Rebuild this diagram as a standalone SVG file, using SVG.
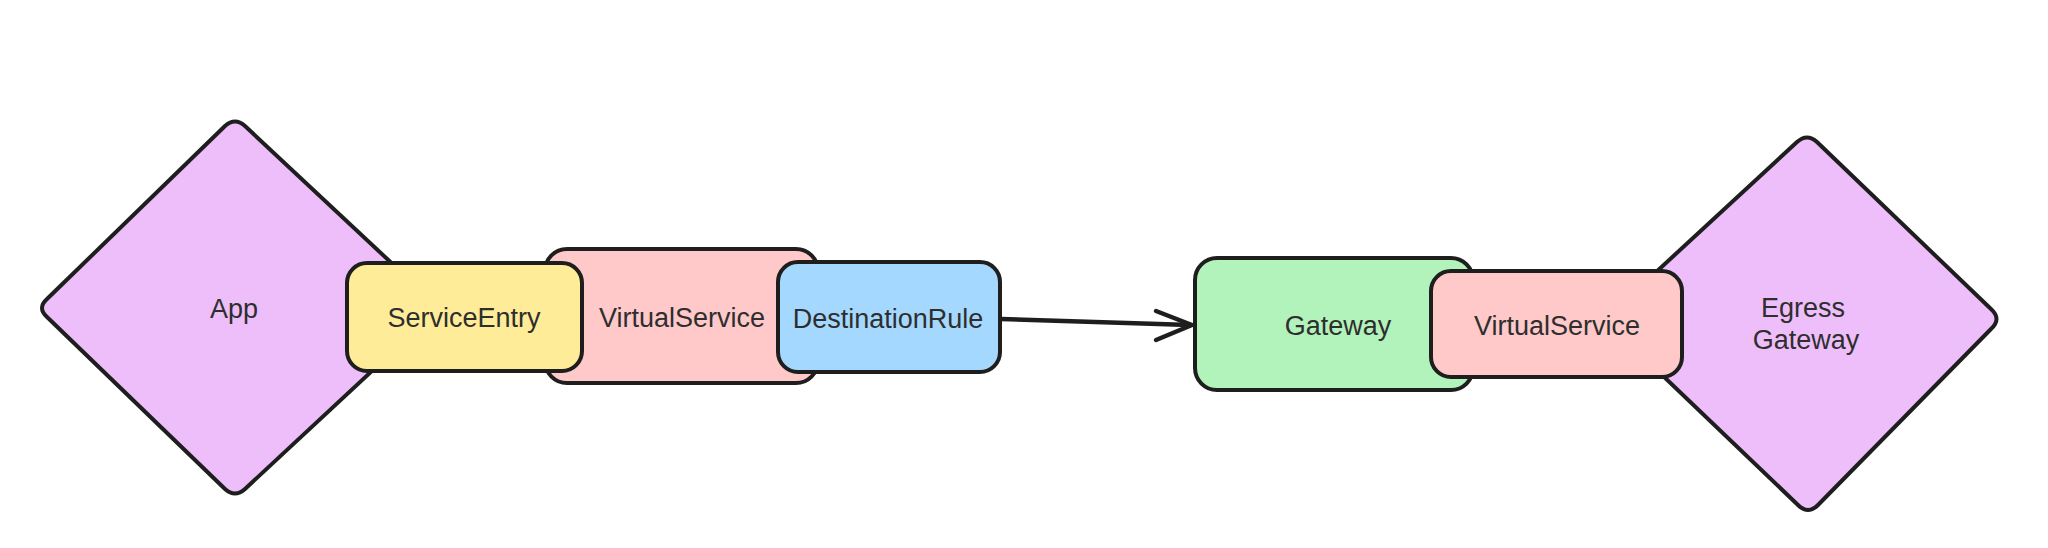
<svg xmlns="http://www.w3.org/2000/svg" width="2048" height="548" viewBox="0 0 2048 548">
<style>
.shape{stroke:#1e1e1e;stroke-width:4;stroke-linejoin:round;stroke-linecap:round}
.purple{fill:#eebefa}
.yellow{fill:#ffec99}
.pink{fill:#ffc9c9}
.blue{fill:#a5d8ff}
.green{fill:#b2f2bb}
.lbl{font-family:"Liberation Sans",Arial,sans-serif;font-size:27px;fill:#2e2e2e;text-anchor:middle}
.conn{fill:none;stroke:#1e1e1e;stroke-width:4.5;stroke-linecap:round;stroke-linejoin:round}
</style>
<rect width="2048" height="548" fill="#ffffff"/>
<g id="app">
<path class="shape purple" d="M245,126 L430,299 Q440,308 430,317 L245,489 Q235,498 225,489 L47,317 Q37,308 47,299 L225,126 Q235,117 245,126 Z"/>
<text class="lbl" x="234" y="318">App</text>
</g>
<g id="virtualservice1">
<rect class="shape pink" x="545" y="249" width="273" height="134" rx="22"/>
<text class="lbl" x="682" y="327">VirtualService</text>
</g>
<g id="serviceentry">
<rect class="shape yellow" x="347" y="263" width="235" height="108" rx="20"/>
<text class="lbl" x="464" y="327">ServiceEntry</text>
</g>
<g id="destinationrule">
<rect class="shape blue" x="778" y="262" width="222" height="110" rx="20"/>
<text class="lbl" x="888" y="328">DestinationRule</text>
</g>
<g id="connectors">
<path class="conn" d="M1001,319 L1190,325"/>
<path class="conn" d="M1156,311 L1192,325 L1156,340"/>
</g>
<g id="gateway">
<rect class="shape green" x="1195" y="258" width="278" height="132" rx="22"/>
<text class="lbl" x="1338" y="335">Gateway</text>
</g>
<g id="egressgateway">
<path class="shape purple" d="M1817,142 L1991,309 Q2002,319 1991,329 L1818,505 Q1808,515 1798,505 L1615,330 Q1605,320 1615,310 L1797,142 Q1807,133 1817,142 Z"/>
<text class="lbl" x="1803" y="317">Egress</text>
<text class="lbl" x="1806" y="349">Gateway</text>
</g>
<g id="virtualservice2">
<rect class="shape pink" x="1431" y="271" width="251" height="106" rx="20"/>
<text class="lbl" x="1557" y="335">VirtualService</text>
</g>
</svg>
